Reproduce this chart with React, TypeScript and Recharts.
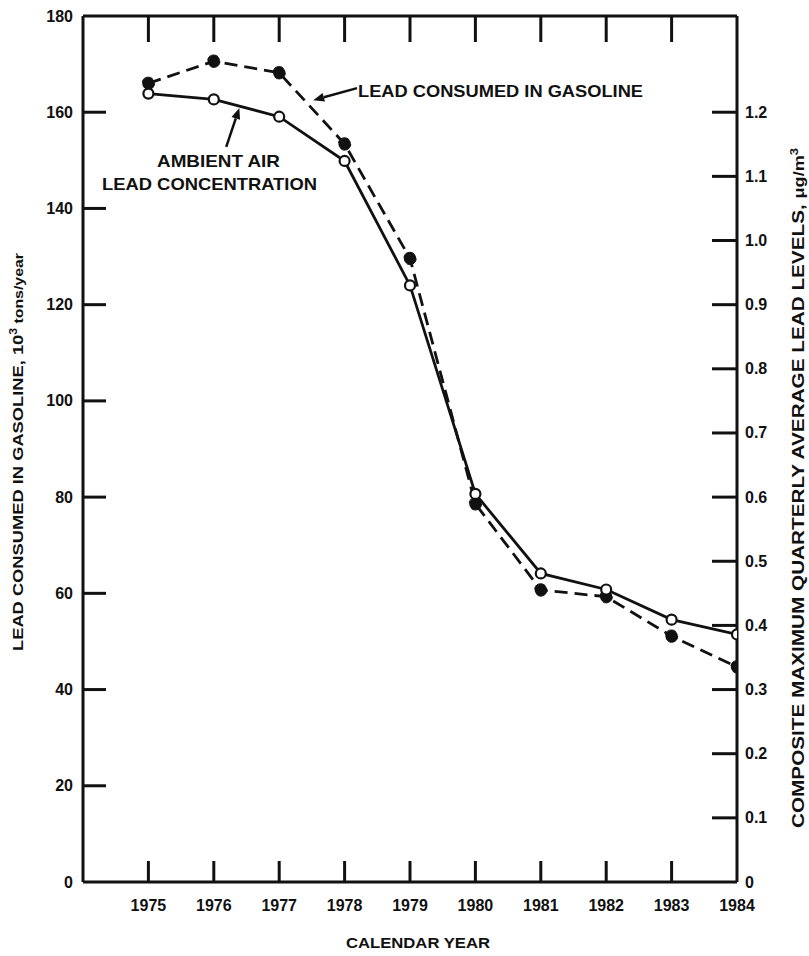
import React from 'react';
import { LineChart, Line, XAxis, YAxis, ReferenceLine } from 'recharts';

const years = [1975, 1976, 1977, 1978, 1979, 1980, 1981, 1982, 1983, 1984];
const gasolineLead = [166, 170.6, 168.2, 153.4, 129.6, 78.6, 60.7, 59.3, 51.1, 44.7];
const ambientLead = [1.229, 1.22, 1.193, 1.124, 0.93, 0.605, 0.481, 0.456, 0.409, 0.386];
const leftTicks = [0, 20, 40, 60, 80, 100, 120, 140, 160, 180];
const rightTicks = [0, 0.1, 0.2, 0.3, 0.4, 0.5, 0.6, 0.7, 0.8, 0.9, 1.0, 1.1, 1.2];
const rightTickLabels = ['0', '0.1', '0.2', '0.3', '0.4', '0.5', '0.6', '0.7', '0.8', '0.9', '1.0', '1.1', '1.2'];
const topTicks = years.slice(0, 9);

const gasolineArrow = [{ x: 1978.19, y: 165.0 }, { x: 1977.52, y: 162.5 }];
const ambientArrow = [{ x: 1976.19, y: 152.8 }, { x: 1976.39, y: 160.9 }];

const data = years.map((year, i) => ({ year, gasoline: gasolineLead[i], ambient: ambientLead[i] }));

const FONT = '"Liberation Sans", Arial, Helvetica, sans-serif';
const INK = '#111';

const LeftTick = (props: any) => {
  const { x, y, payload } = props;
  const v = payload.value;
  return (
    <g>
      {v > 0 && v < 180 && <line x1={x} x2={x + 23} y1={y} y2={y} stroke={INK} strokeWidth={3} />}
      <text x={x - 10} y={y} dy={5.5} textAnchor="end" fontFamily={FONT} fontWeight="bold" fontSize={16} fill={INK}>
        {v}
      </text>
    </g>
  );
};

const RightTick = (props: any) => {
  const { x, y, payload, index } = props;
  const v = payload.value;
  const idx = rightTicks.indexOf(v);
  return (
    <g>
      {v > 0 && <line x1={x - 25} x2={x} y1={y} y2={y} stroke={INK} strokeWidth={3} />}
      <text x={x + 8} y={y} dy={5.5} textAnchor="start" fontFamily={FONT} fontWeight="bold" fontSize={16} fill={INK}>
        {rightTickLabels[idx >= 0 ? idx : index]}
      </text>
    </g>
  );
};

const BottomTick = (props: any) => {
  const { x, y, payload } = props;
  const v = payload.value;
  return (
    <g>
      {v < 1984 && <line x1={x} x2={x} y1={y} y2={y - 21} stroke={INK} strokeWidth={3} />}
      <text x={x} y={y + 29} textAnchor="middle" fontFamily={FONT} fontWeight="bold" fontSize={16} fill={INK}>
        {v}
      </text>
    </g>
  );
};

const TopTick = (props: any) => {
  const { x, y } = props;
  return <line x1={x} x2={x} y1={y} y2={y + 26} stroke={INK} strokeWidth={3} />;
};

const Arrow = (props: any) => {
  const { x1, y1, x2, y2 } = props;
  if ([x1, y1, x2, y2].some((v) => typeof v !== 'number' || isNaN(v))) return null;
  const dx = x2 - x1;
  const dy = y2 - y1;
  const len = Math.sqrt(dx * dx + dy * dy) || 1;
  const ux = dx / len;
  const uy = dy / len;
  const hl = 11;
  const hw = 4.5;
  const bx = x2 - ux * hl;
  const by = y2 - uy * hl;
  const px = -uy;
  const py = ux;
  return (
    <g>
      <line x1={x1} y1={y1} x2={bx} y2={by} stroke={INK} strokeWidth={2.5} />
      <polygon
        points={`${x2},${y2} ${bx + px * hw},${by + py * hw} ${bx - px * hw},${by - py * hw}`}
        fill={INK}
      />
    </g>
  );
};

export default function App() {
  return (
    <div style={{ position: 'absolute', left: 0, top: 0, width: 809, height: 956, overflow: 'hidden', background: '#fff' }}>
      <LineChart
        width={809}
        height={956}
        data={data}
        margin={{ top: 8, right: 12, bottom: 14, left: 23 }}
      >
        <XAxis
          dataKey="year"
          type="number"
          domain={[1974, 1984]}
          ticks={years}
          interval={0}
          height={60}
          tickSize={0}
          tickMargin={0}
          axisLine={{ stroke: INK, strokeWidth: 3 }}
          tickLine={false}
          tick={(p: any) => <BottomTick {...p} />}
          allowDataOverflow
        />
        <XAxis
          xAxisId="top"
          orientation="top"
          dataKey="year"
          type="number"
          domain={[1974, 1984]}
          ticks={topTicks}
          interval={0}
          height={8}
          tickSize={0}
          tickMargin={0}
          axisLine={{ stroke: INK, strokeWidth: 3 }}
          tickLine={false}
          tick={(p: any) => <TopTick {...p} />}
          allowDataOverflow
        />
        <YAxis
          yAxisId="left"
          orientation="left"
          type="number"
          domain={[0, 180]}
          ticks={leftTicks}
          interval={0}
          width={60}
          tickSize={0}
          tickMargin={0}
          axisLine={{ stroke: INK, strokeWidth: 3 }}
          tickLine={false}
          tick={(p: any) => <LeftTick {...p} />}
          allowDataOverflow
        />
        <YAxis
          yAxisId="right"
          orientation="right"
          type="number"
          domain={[0, 1.35]}
          ticks={rightTicks}
          interval={0}
          width={60}
          tickSize={0}
          tickMargin={0}
          axisLine={{ stroke: INK, strokeWidth: 3 }}
          tickLine={false}
          tick={(p: any) => <RightTick {...p} />}
          allowDataOverflow
        />
        <ReferenceLine yAxisId="left" segment={gasolineArrow} ifOverflow="visible" shape={(p: any) => <Arrow {...p} />} />
        <ReferenceLine yAxisId="left" segment={ambientArrow} ifOverflow="visible" shape={(p: any) => <Arrow {...p} />} />
        <Line
          yAxisId="left"
          dataKey="gasoline"
          stroke={INK}
          strokeWidth={2.8}
          strokeDasharray="13 7"
          dot={{ r: 6.2, fill: INK, stroke: INK, strokeWidth: 1 }}
          isAnimationActive={false}
        />
        <Line
          yAxisId="right"
          dataKey="ambient"
          stroke={INK}
          strokeWidth={2.8}
          dot={{ r: 5, fill: '#fff', stroke: INK, strokeWidth: 2.2 }}
          isAnimationActive={false}
        />
        <text x={358} y={97} fontFamily={FONT} fontWeight="bold" fontSize={17} fill={INK} textLength={285} lengthAdjust="spacingAndGlyphs">
          LEAD CONSUMED IN GASOLINE
        </text>
        <text x={157} y={167} fontFamily={FONT} fontWeight="bold" fontSize={17} fill={INK} textLength={123} lengthAdjust="spacingAndGlyphs">
          AMBIENT AIR
        </text>
        <text x={102} y={190} fontFamily={FONT} fontWeight="bold" fontSize={17} fill={INK} textLength={215} lengthAdjust="spacingAndGlyphs">
          LEAD CONCENTRATION
        </text>
        <text x={418} y={948} textAnchor="middle" fontFamily={FONT} fontWeight="bold" fontSize={15} fill={INK} textLength={144} lengthAdjust="spacingAndGlyphs">
          CALENDAR YEAR
        </text>
        <text
          transform="translate(23, 452) rotate(-90)"
          textAnchor="middle"
          fontFamily={FONT}
          fontWeight="bold"
          fontSize={15}
          fill={INK}
          textLength={398}
          lengthAdjust="spacingAndGlyphs"
        >
          LEAD CONSUMED IN GASOLINE, 10<tspan dy={-6} fontSize={10}>3</tspan>
          <tspan dy={6} fontSize={13}> tons/year</tspan>
        </text>
        <text
          transform="translate(804, 488) rotate(-90)"
          textAnchor="middle"
          fontFamily={FONT}
          fontWeight="bold"
          fontSize={16}
          fill={INK}
          textLength={680}
          lengthAdjust="spacingAndGlyphs"
        >
          COMPOSITE MAXIMUM QUARTERLY AVERAGE LEAD LEVELS, <tspan fontSize={14}>μg/m</tspan>
          <tspan dy={-6} fontSize={10}>3</tspan>
        </text>
      </LineChart>
    </div>
  );
}
